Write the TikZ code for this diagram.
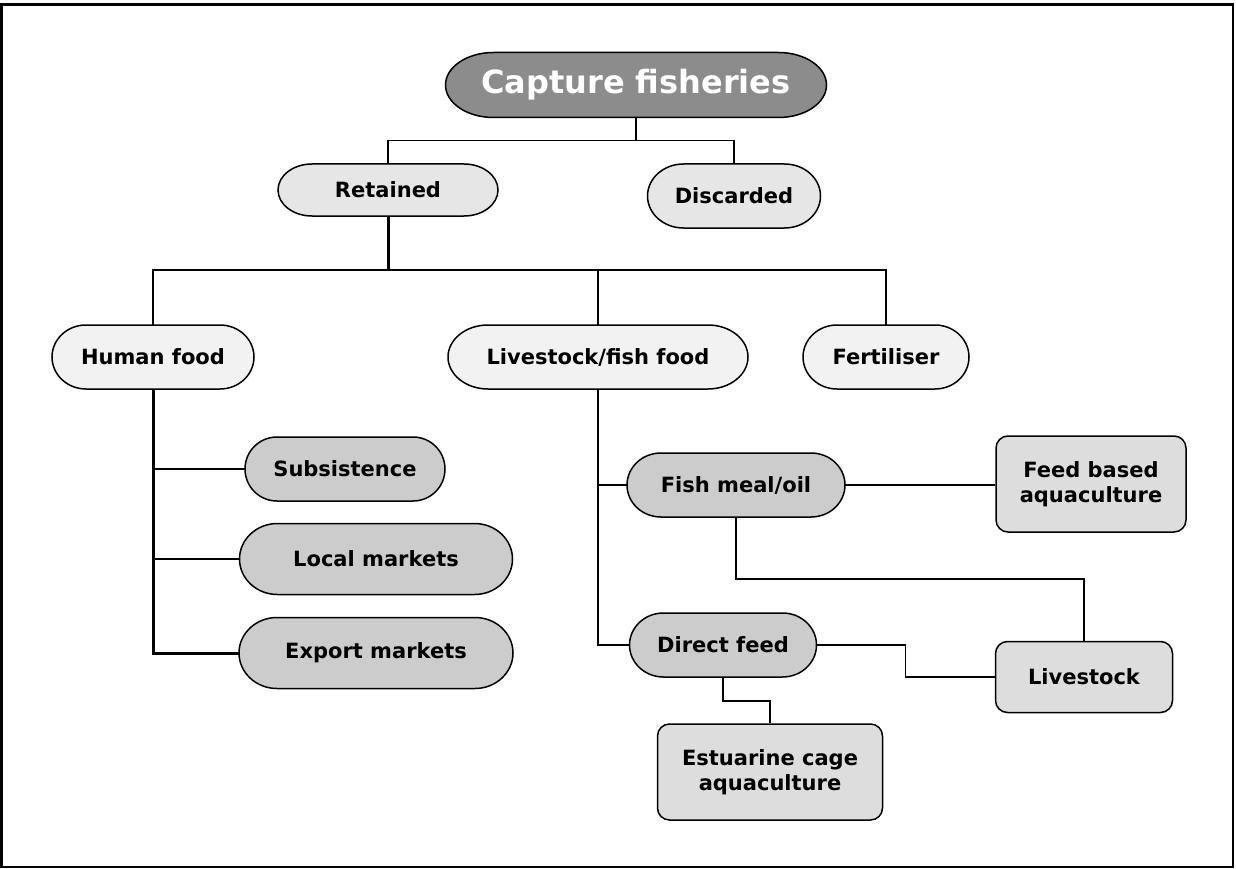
\documentclass[tikz,border=0pt]{standalone}
\usepackage{fontspec}
\setmainfont{DejaVu Sans}
\definecolor{capfill}{HTML}{8C8C8C}
\definecolor{lvlone}{HTML}{E6E6E6}
\definecolor{lvltwo}{HTML}{F2F2F2}
\definecolor{lvlthree}{HTML}{CCCCCC}
\definecolor{boxfill}{HTML}{DDDDDD}
\tikzset{
  txt/.style={font=\bfseries\fontsize{21}{25}\selectfont, align=center},
  captxt/.style={font=\bfseries\fontsize{32}{38}\selectfont, text=white},
  pillline/.style={draw=black, line width=1.5pt},
  conn/.style={draw=black, line width=1.5pt},
  thickconn/.style={draw=black, line width=3pt},
  roundbox/.style={draw=black, line width=1.5pt, fill=boxfill, rounded corners=12pt, inner sep=0pt, txt},
}
% #1 name, #2 x, #3 y, #4 width, #5 height, #6 end x-radius, #7 fill colour, #8 text style, #9 text
\newcommand\pillnode[9]{%
  \path[pillline, fill=#7] (#2-#4/2+#6, #3-#5/2) -- (#2+#4/2-#6, #3-#5/2)
    arc[start angle=90, end angle=-90, x radius=#6pt, y radius={#5/2*1pt}]
    -- (#2-#4/2+#6, #3+#5/2)
    arc[start angle=270, end angle=90, x radius=#6pt, y radius={#5/2*1pt}] -- cycle;
  \node[#8, inner sep=0pt, minimum width=#4pt, minimum height=#5pt] (#1) at (#2,#3) {#9};
}
\begin{document}
\begin{tikzpicture}[x=1pt, y=-1pt]
\useasboundingbox (0,0) rectangle (1236,869);
\draw[line width=2.5pt] (1.5,4.5) rectangle (1233,867);

\pillnode{cap}{636}{85}{381}{65}{48}{capfill}{captxt}{Capture fisheries}
\pillnode{ret}{388}{190}{220}{52}{34}{lvlone}{txt}{Retained}
\pillnode{dis}{734}{196}{173}{64}{36}{lvlone}{txt}{Discarded}

\pillnode{hum}{153}{357}{202}{64}{34}{lvltwo}{txt}{Human food}
\pillnode{lff}{598}{357}{300}{64}{40}{lvltwo}{txt}{Livestock/fish food}
\pillnode{fer}{886}{357}{166}{64}{34}{lvltwo}{txt}{Fertiliser}

\pillnode{sub}{345}{469}{200}{64}{32}{lvlthree}{txt}{Subsistence}
\pillnode{loc}{376}{559}{273}{71}{38}{lvlthree}{txt}{Local markets}
\pillnode{exp}{376}{653}{274}{71}{38}{lvlthree}{txt}{Export markets}

\pillnode{fm}{736}{485}{218}{64}{34}{lvlthree}{txt}{Fish meal/oil}
\pillnode{df}{723}{645}{187}{64}{34}{lvlthree}{txt}{Direct feed}

\node[roundbox, minimum width=190pt, minimum height=96pt] (fba) at (1091,484) {Feed based\\aquaculture};
\node[roundbox, minimum width=177pt, minimum height=71pt] (lvs) at (1084,677) {Livestock};
\node[roundbox, minimum width=225pt, minimum height=96pt] (est) at (770,772) {Estuarine cage\\aquaculture};

% top level
\draw[conn] (cap.south) -- ++(0,23) coordinate (capj) -| (ret.north);
\draw[conn] (capj) -| (dis.north);

% retained
\draw[thickconn] (ret.south) -- ++(0,54) coordinate (retj);
\draw[conn] (retj) -| (hum.north);
\draw[conn] (retj) -| (fer.north);
\draw[conn] (retj -| lff.north) -- (lff.north);

% human food
\draw[thickconn] (hum.south) |- (exp.west);
\draw[conn] (hum.south |- sub.west) -- (sub.west);
\draw[conn] (hum.south |- loc.west) -- (loc.west);
\draw[conn] (hum.south |- exp.west) -- (exp.west);

% livestock/fish food
\draw[conn] (lff.south) |- (df.west);
\draw[conn] (lff.south |- fm.west) -- (fm.west);

% fish meal
\draw[conn] (fm.east) -- (fm.east -| fba.west);
\draw[conn] (fm.south) -- ++(0,62) -| (lvs.north);

% direct feed
\draw[conn] (df.east) -- ++(89,0) |- (lvs.west);
\draw[conn] (df.south) -- ++(0,24) -| (est.north);
\end{tikzpicture}
\end{document}
